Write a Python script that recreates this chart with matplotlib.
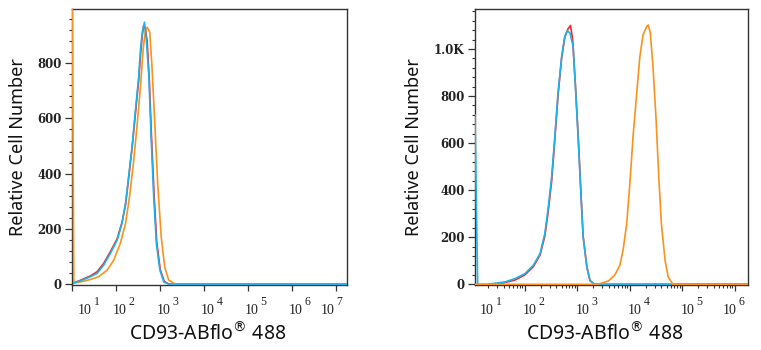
import matplotlib
matplotlib.use("Agg")
import matplotlib.pyplot as plt
import matplotlib.transforms as mtransforms
from matplotlib.ticker import FixedLocator, MultipleLocator, NullFormatter

plt.rcParams["font.family"] = ["Noto Sans", "DejaVu Sans"]

RED = "#ee2a2c"
BLUE = "#1db3e6"
ORANGE = "#f7931e"

# left panel: red, blue and orange histograms (fluorescence intensity, cell count)
left_red_x = [11.0, 15.5, 26.3, 37.2, 52.5, 75, 107, 138, 166, 195, 234, 275, 331, 363, 398, 427,
              468, 513, 575, 646, 741, 851, 1023, 1259, 1622, 2.0e7]
left_red_y = [4, 14, 30, 45, 75, 118, 165, 225, 290, 385, 495, 610, 740, 830, 900, 936,
              925, 880, 740, 530, 320, 150, 52, 10, 0, 0]
left_blue_x = [11.0, 15.5, 26.3, 37.2, 52.5, 75, 107, 138, 166, 195, 234, 275, 331, 363, 398, 447,
               490, 562, 631, 724, 832, 1000, 1230, 1585, 2.0e7]
left_blue_y = [5, 12, 27, 39, 69, 112, 160, 221, 293, 390, 499, 621, 754, 851, 912, 948,
               887, 754, 536, 317, 148, 51, 8, 0, 0]
left_orange_x = [10.0, 11.0, 15.5, 26.3, 40.7, 63.1, 89.1, 126, 166, 204, 251, 302, 363, 417, 468,
                 513, 589, 661, 759, 891, 1072, 1288, 1585, 2239, 2.0e7]
left_orange_y = [1200, 4, 8, 17, 27, 51, 87, 148, 221, 317, 439, 572, 717, 851, 918,
                 930, 912, 790, 596, 366, 172, 63, 15, 0, 0]

# right panel
right_red_x = [30, 64.6, 100, 145, 195, 240, 275, 324, 372, 427, 501, 575, 661, 741, 813, 933,
               1047, 1175, 1288, 1514, 1738, 2138, 2.0e6]
right_red_y = [0, 18, 40, 75, 125, 205, 300, 440, 615, 800, 960, 1050, 1085, 1100, 1040, 820,
               610, 380, 205, 75, 15, 0, 0]
right_blue_x = [11.2, 12.6, 19.0, 41.7, 64.6, 100, 145, 195, 240, 275, 324, 372, 427, 501, 575, 646,
                724, 832, 933, 1047, 1175, 1288, 1514, 1738, 2138, 2.0e6]
right_blue_y = [720, 0, 0, 10, 24, 45, 81, 131, 216, 315, 457, 627, 811, 967, 1052, 1078,
                1067, 1010, 811, 599, 371, 201, 74, 17, 0, 0]
right_orange_x = [11.2, 2344, 2692, 3890, 5129, 6457, 7413, 8710, 10000, 11482, 13490, 15488, 17783,
                  20893, 22387, 24547, 27542, 31623, 35481, 39811, 46774, 53703, 66069, 2.0e6]
right_orange_y = [0, 0, 3, 14, 38, 81, 145, 258, 428, 627, 811, 967, 1060,
                  1095, 1102, 1067, 925, 698, 457, 258, 102, 31, 0, 0]

LEFT_XLIM = (10 ** 1.0, 10 ** 7.26)
RIGHT_XLIM = (10 ** 1.05, 10 ** 6.25)
LEFT_YLIM = (-3, 996)
RIGHT_YLIM = (-3, 1170)
LEFT_YTICKS = [0, 200, 400, 600, 800]
LEFT_YLABELS = ["0", "200", "400", "600", "800"]
RIGHT_YTICKS = [0, 200, 400, 600, 800, 1000]
RIGHT_YLABELS = ["0", "200", "400", "600", "800", "1.0K"]
LEFT_DECADES = [1, 2, 3, 4, 5, 6, 7]
RIGHT_DECADES = [1, 2, 3, 4, 5, 6]


def px_offset(figure, dx, dy):
    return mtransforms.ScaledTranslation(dx / 100, dy / 100, figure.dpi_scale_trans)


def style_axis(figure, axis, xlim, ylim, yticks, ylabels, decades, nudges):
    axis.set_xscale("log")
    axis.set_xlim(*xlim)
    axis.set_ylim(*ylim)
    for spine in axis.spines.values():
        spine.set_color("#333333")
        spine.set_linewidth(1.0)
    axis.xaxis.set_major_locator(FixedLocator([10.0 ** d for d in range(0, 9)]))
    axis.xaxis.set_major_formatter(NullFormatter())
    axis.xaxis.set_minor_formatter(NullFormatter())
    axis.tick_params(axis="x", which="major", direction="out", length=4.3, width=0.9, color="#333333")
    axis.tick_params(axis="x", which="minor", direction="out", length=2.2, width=0.8, color="#333333")
    axis.set_yticks(yticks)
    axis.set_yticklabels(ylabels, fontfamily="DejaVu Serif", fontweight="bold", fontsize=8.5, color="#222222")
    axis.yaxis.set_minor_locator(MultipleLocator(40))
    axis.tick_params(axis="y", which="major", direction="out", length=5.0, width=0.9, pad=2.5, color="#333333")
    axis.tick_params(axis="y", which="minor", direction="out", length=2.5, width=0.8, color="#333333")

    base = axis.get_xaxis_transform()
    for decade, nudge in zip(decades, nudges):
        axis.text(10.0 ** decade, 0, "10", transform=base + px_offset(figure, nudge, -29),
                  ha="left", va="baseline", fontfamily="Liberation Serif", fontsize=10,
                  color="#222222", clip_on=False)
        axis.text(10.0 ** decade, 0, str(decade), transform=base + px_offset(figure, nudge + 16, -20),
                  ha="left", va="baseline", fontfamily="Liberation Serif", fontsize=8.5,
                  color="#222222", clip_on=False)


figure = plt.figure(figsize=(7.61, 3.5), dpi=100)
left_axis = figure.add_axes([72 / 761, 65 / 350, 275 / 761, 276 / 350])
right_axis = figure.add_axes([475 / 761, 65 / 350, 273 / 761, 276 / 350])

left_axis.plot(left_red_x, left_red_y, color=RED, linewidth=1.2, zorder=3)
left_axis.plot(left_orange_x, left_orange_y, color=ORANGE, linewidth=1.2, zorder=4)
left_axis.plot(left_blue_x, left_blue_y, color=BLUE, linewidth=1.2, zorder=5)

right_axis.plot(right_red_x, right_red_y, color=RED, linewidth=1.2, zorder=3)
right_axis.plot(right_blue_x, right_blue_y, color=BLUE, linewidth=1.2, zorder=4)
right_axis.plot(right_orange_x, right_orange_y, color=ORANGE, linewidth=1.2, zorder=5)

style_axis(figure, left_axis, LEFT_XLIM, LEFT_YLIM, LEFT_YTICKS, LEFT_YLABELS,
           LEFT_DECADES, [5.5, -3, -3, -3, -3, -3, -15])
style_axis(figure, right_axis, RIGHT_XLIM, RIGHT_YLIM, RIGHT_YTICKS, RIGHT_YLABELS,
           RIGHT_DECADES, [7.5, -2, -2, -2, -2, -12])

for center_x in (18, 414):
    figure.text(center_x / 761, 1 - 147 / 350, "Relative Cell Number", rotation=90,
                ha="center", va="center", fontsize=13, color="#111111")
for center_x in (207.5, 605):
    figure.text(center_x / 761, 1 - 340 / 350, "CD93-ABflo$^{®}$ 488",
                ha="center", va="baseline", fontsize=14, color="#111111")

figure.savefig("out.png", dpi=100)
